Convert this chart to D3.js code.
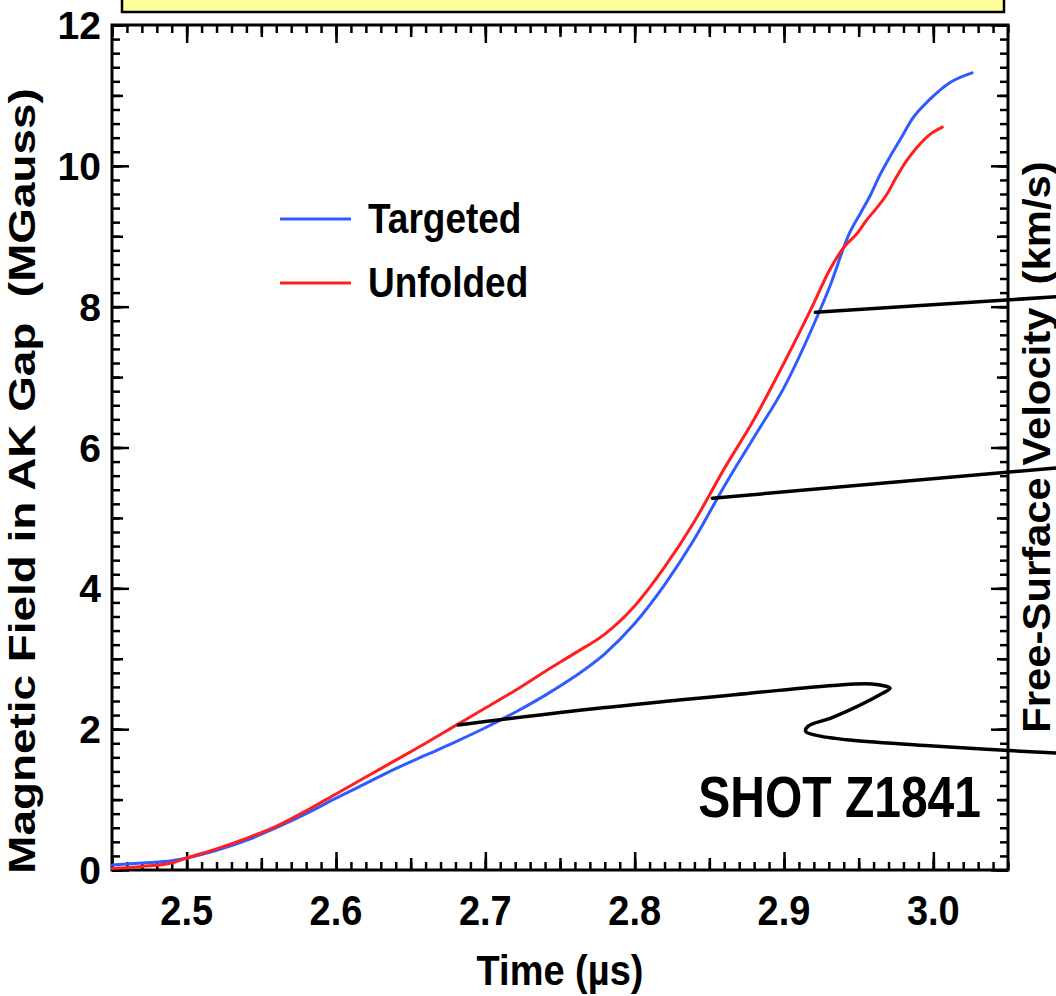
<!DOCTYPE html>
<html>
<head>
<meta charset="utf-8">
<title>SHOT Z1841</title>
<script src="https://d3js.org/d3.v7.min.js"></script>
<style>
body { margin: 0; padding: 0; background: #fff; }
svg { display: block; font-family: "Liberation Sans", Arial, sans-serif; font-weight: bold; }
</style>
</head>
<body>
<svg id="chart" width="1056" height="996"></svg>
<script>
// --- data (time in us, field in MGauss) ---
var targetedT = [2.450,2.470,2.490,2.500,2.520,2.540,2.560,2.580,2.600,2.620,2.640,2.660,2.680,2.700,2.720,2.740,2.760,2.780,2.800,2.820,2.840,2.860,2.880,2.900,2.920,2.930,2.944,2.951,2.958,2.964,2.971,2.978,2.986,2.998,3.011,3.026];
var targetedB = [0.07,0.10,0.13,0.17,0.28,0.42,0.60,0.80,1.02,1.23,1.44,1.63,1.82,2.02,2.24,2.48,2.75,3.07,3.50,4.05,4.70,5.45,6.15,6.85,7.75,8.25,9.05,9.32,9.59,9.86,10.13,10.38,10.67,10.95,11.18,11.32];

var unfoldedT = [2.450,2.470,2.490,2.500,2.520,2.540,2.560,2.580,2.600,2.620,2.640,2.660,2.680,2.700,2.720,2.740,2.760,2.780,2.800,2.820,2.840,2.860,2.880,2.900,2.920,2.930,2.940,2.949,2.955,2.962,2.969,2.975,2.982,2.989,2.998,3.006];
var unfoldedB = [0.02,0.05,0.10,0.17,0.30,0.45,0.62,0.84,1.08,1.32,1.56,1.80,2.05,2.30,2.55,2.82,3.08,3.35,3.75,4.30,4.95,5.70,6.40,7.20,8.05,8.50,8.84,9.04,9.22,9.40,9.60,9.83,10.07,10.26,10.45,10.55];

// pointer lines running off to the (cut) panel on the right, in data units
var pointerTop = [[2.921,7.92],[3.082,8.14]];
var pointerMid = [[2.852,5.28],[3.082,5.71]];
var pointerLow = [[2.682,2.06],[2.777,2.30],[2.877,2.51],[2.933,2.62],[2.959,2.64],[2.971,2.58],[2.966,2.51],
                  [2.933,2.17],[2.916,2.04],[2.9145,1.97],[2.921,1.915],[2.944,1.845],[3.000,1.76],[3.082,1.66]];

var xTickLabels = [2.5,2.6,2.7,2.8,2.9,3.0];
var yTickLabels = [0,2,4,6,8,10,12];
var seriesNames = ["Targeted","Unfolded"];
var seriesColors = ["#2f5cff","#ff1f1f"];

// --- layout ---
var svg = d3.select("#chart");
var plotL = 112, plotR = 1008, plotT = 25, plotB = 870;

var x = d3.scaleLinear().domain([2.45,3.05]).range([plotL,plotR]);
var y = d3.scaleLinear().domain([0,12]).range([plotB,plotT]);

svg.append("rect").attr("width",1056).attr("height",996).attr("fill","#fff");

// yellow title box, cut at the top edge
svg.append("rect")
  .attr("x",122).attr("y",-20).attr("width",882).attr("height",32)
  .attr("fill","#ffff99").attr("stroke","#000").attr("stroke-width",2.5);

// ticks (all pointing inward)
var xMinor = d3.range(245,306).map(function(i){ return i/100; });
var xMid = d3.range(49,61).map(function(i){ return i/20; });
var yMinor = d3.range(0,61).map(function(i){ return i/5; });
var yMid = d3.range(0,13);

function tickSet(axisFn, scale, vals, size, transform) {
  var g = svg.append("g").attr("transform",transform)
    .call(axisFn(scale).tickValues(vals).tickSize(size).tickFormat(""));
  g.select(".domain").remove();
  g.selectAll("line").attr("stroke","#000").attr("stroke-width",2.5);
}
[[xMinor,8],[xMid,12],[xTickLabels,18]].forEach(function(s){
  tickSet(d3.axisTop, x, s[0], s[1], "translate(0,"+plotB+")");
  tickSet(d3.axisBottom, x, s[0], s[1], "translate(0,"+plotT+")");
});
[[yMinor,8],[yMid,11],[yTickLabels,17]].forEach(function(s){
  tickSet(d3.axisRight, y, s[0], s[1], "translate("+plotL+",0)");
  tickSet(d3.axisLeft, y, s[0], s[1], "translate("+plotR+",0)");
});

// frame
svg.append("rect")
  .attr("x",plotL).attr("y",plotT).attr("width",plotR-plotL).attr("height",plotB-plotT)
  .attr("fill","none").attr("stroke","#000").attr("stroke-width",3);

// tick labels
svg.selectAll(".xl").data(xTickLabels).enter().append("text")
  .attr("class","xl")
  .attr("transform",function(d){ return "translate("+x(d)+",925) scale(1,1.12)"; })
  .attr("text-anchor","middle").attr("font-size",38)
  .text(function(d){ return d.toFixed(1); });

svg.selectAll(".yl").data(yTickLabels).enter().append("text")
  .attr("class","yl")
  .attr("x",101).attr("y",function(d){ return y(d); }).attr("dy","0.36em")
  .attr("text-anchor","end").attr("font-size",39)
  .text(function(d){ return d; });

// axis titles
svg.append("text")
  .attr("transform","translate(560,985) scale(1,1.12)")
  .attr("text-anchor","middle").attr("font-size",38)
  .text("Time (\u00b5s)");

svg.append("text")
  .attr("transform","translate(35,481) rotate(-90) scale(1.24,1)")
  .attr("text-anchor","middle").attr("font-size",37)
  .attr("xml:space","preserve")
  .text("Magnetic Field in AK Gap  (MGauss)");

svg.append("text")
  .attr("transform","translate(1050,447) rotate(-90) scale(1.1,1)")
  .attr("text-anchor","middle").attr("font-size",38)
  .attr("xml:space","preserve")
  .text("Free-Surface Velocity  (km/s)");

// curves
var line = d3.line()
  .x(function(d){ return x(d[0]); })
  .y(function(d){ return y(d[1]); })
  .curve(d3.curveMonotoneX);

var series = [d3.zip(targetedT,targetedB), d3.zip(unfoldedT,unfoldedB)];
svg.selectAll(".curve").data(series).enter().append("path")
  .attr("class","curve")
  .attr("d",line)
  .attr("fill","none")
  .attr("stroke",function(d,i){ return seriesColors[i]; })
  .attr("stroke-width",3)
  .attr("stroke-linecap","round");

// legend
var legend = svg.selectAll(".leg").data(seriesNames).enter().append("g")
  .attr("class","leg")
  .attr("transform",function(d,i){ return "translate(280,"+(219+i*64)+")"; });
legend.append("line")
  .attr("x1",0).attr("x2",71)
  .attr("stroke",function(d,i){ return seriesColors[i]; })
  .attr("stroke-width",3);
legend.append("text")
  .attr("transform","translate(88,14) scale(1,1.15)")
  .attr("font-size",37)
  .text(function(d){ return d; });

// shot label
svg.append("text")
  .attr("transform","translate(981,817) scale(1,1.2)")
  .attr("text-anchor","end").attr("font-size",48)
  .text("SHOT Z1841");

// pointer lines
var pointer = d3.line()
  .x(function(d){ return x(d[0]); })
  .y(function(d){ return y(d[1]); })
  .curve(d3.curveCatmullRom.alpha(0.5));

svg.selectAll(".ptr").data([pointerTop,pointerMid,pointerLow]).enter().append("path")
  .attr("class","ptr")
  .attr("d",pointer)
  .attr("fill","none")
  .attr("stroke","#000")
  .attr("stroke-width",3.5)
  .attr("stroke-linecap","round");
</script>
</body>
</html>
